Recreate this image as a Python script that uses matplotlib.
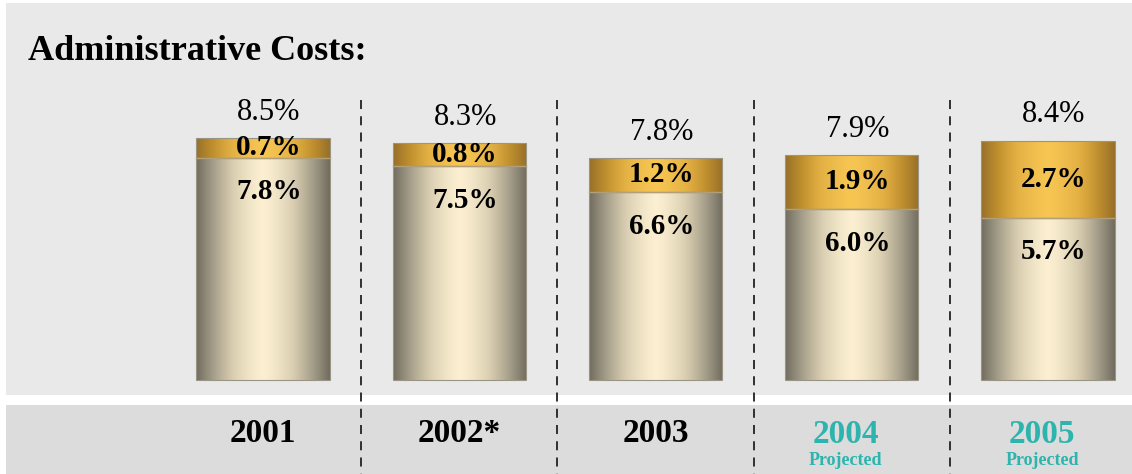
import matplotlib.pyplot as plt
import numpy as np
from matplotlib.colors import LinearSegmentedColormap
from matplotlib.patches import Rectangle

# data
years = ['2001', '2002*', '2003', '2004', '2005']
projected = [False, False, False, True, True]
base_costs = [7.8, 7.5, 6.6, 6.0, 5.7]
added_costs = [0.7, 0.8, 1.2, 1.9, 2.7]
totals = [8.5, 8.3, 7.8, 7.9, 8.4]

plt.rcParams['font.family'] = ['Liberation Serif', 'DejaVu Serif']

W, H = 1132, 474
fig = plt.figure(figsize=(W / 100, H / 100), dpi=100)
ax = fig.add_axes([0, 0, 1, 1])
ax.axis('off')

# pixel layout -> data limits
px_unit_x = 196.25
px_unit_y = 28.5
x0_px, y0_px = 263, 380
xlim = (-x0_px / px_unit_x, (W - x0_px) / px_unit_x)
ylim = (-(H - y0_px) / px_unit_y, y0_px / px_unit_y)


def fy(py):
    # figure pixel row (from top) -> axes fraction
    return 1 - py / H


# background panels
ax.add_patch(Rectangle((0.005, fy(395)), 0.995, fy(3) - fy(395), transform=ax.transAxes,
                       facecolor='#e9e9e9', edgecolor='none', zorder=0))
ax.add_patch(Rectangle((0.005, 0), 0.995, fy(405), transform=ax.transAxes,
                       facecolor='#dcdcdc', edgecolor='none', zorder=0))

x = np.arange(len(years))
width = 0.68

base_cmap = LinearSegmentedColormap.from_list('base', ['#726c60', '#a49d89', '#d8cdb0', '#fcefd1'])
gold_cmap = LinearSegmentedColormap.from_list('gold', ['#976f28', '#c0902f', '#e4b144', '#f6c552'])
t = np.linspace(-1, 1, 200)
profile = (1 - np.abs(t) ** 1.4)[None, :]

b1 = ax.bar(x, base_costs, width, facecolor='none', edgecolor='none', zorder=2)
b2 = ax.bar(x, added_costs, width, bottom=base_costs, facecolor='none', edgecolor='none', zorder=2)

for bars, cmap in [(b1, base_cmap), (b2, gold_cmap)]:
    for p in bars:
        bx, by = p.get_x(), p.get_y()
        im = ax.imshow(profile, extent=[bx, bx + p.get_width(), by, by + p.get_height()],
                       cmap=cmap, vmin=0, vmax=1, aspect='auto', zorder=2, interpolation='bilinear')
        im.set_clip_path(p)

# thin outline and seam
for p in list(b1) + list(b2):
    ax.add_patch(Rectangle((p.get_x(), p.get_y()), p.get_width(), p.get_height(), facecolor='none',
                           edgecolor='#9a9484', lw=0.8, zorder=3))
for i in range(len(years)):
    ax.plot([x[i] - width / 2, x[i] + width / 2], [base_costs[i]] * 2, color='#b09f78', lw=1, zorder=3)

# value labels
for i in range(len(years)):
    ax.text(x[i] + 0.03, totals[i] + 0.9, f'{totals[i]:.1f}%', ha='center', va='center', fontsize=22, zorder=4)
    ax.text(x[i] + 0.03, base_costs[i] + added_costs[i] / 2, f'{added_costs[i]:.1f}%', ha='center',
            va='center', fontsize=21, fontweight='bold', zorder=4)
    ax.text(x[i] + 0.03, base_costs[i] - 1.2, f'{base_costs[i]:.1f}%', ha='center', va='center',
            fontsize=21, fontweight='bold', zorder=4)

# year labels
teal = '#2db4ae'
for i, yr in enumerate(years):
    if projected[i]:
        ax.text(x[i] - 0.03, -1.9, yr, ha='center', va='center', fontsize=24, fontweight='bold', color=teal)
        ax.text(x[i] - 0.03, -2.82, 'Projected', ha='center', va='center', fontsize=13, fontweight='bold',
                color=teal)
    else:
        ax.text(x[i], -1.86, yr, ha='center', va='center', fontsize=24, fontweight='bold')

# dashed dividers
for i in range(len(years) - 1):
    xd = (x[i] + x[i + 1]) / 2
    ax.plot([xd, xd], [(y0_px - 100) / px_unit_y, ylim[0]], color='#222222', lw=1.3,
            ls=(0, (5, 4)), zorder=3)

ax.text(28 / W, fy(52), 'Administrative Costs:', transform=ax.transAxes, ha='left', va='center',
        fontsize=26, fontweight='bold')

ax.set_xlim(*xlim)
ax.set_ylim(*ylim)

fig.savefig('out.png', dpi=100)
